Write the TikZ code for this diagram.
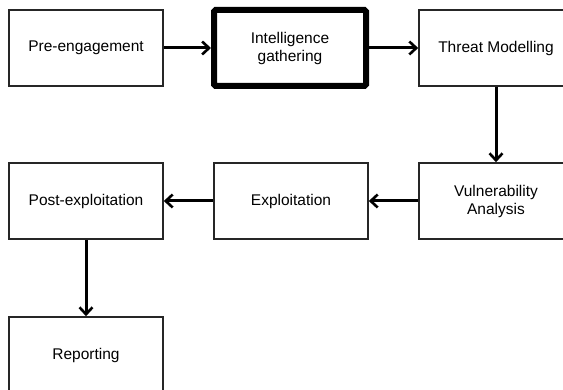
\documentclass[tikz,border=0pt]{standalone}
\usepackage{fontspec}
\setmainfont{Liberation Sans}
\usetikzlibrary{arrows.meta}
\begin{document}
\begin{tikzpicture}[x=1pt,y=-1pt,
  box/.style={draw=black!85, line width=1.6pt, minimum width=154pt, minimum height=76pt, align=center, font=\fontsize{15.5}{18}\selectfont, inner sep=0pt},
  thickbox/.style={box, draw=black, line width=6pt, rounded corners=1.5pt, minimum width=152pt, minimum height=76pt},
  conn/.style={line width=3pt, -{Straight Barb[length=7pt,width=13pt,line width=2.6pt]}}]
\useasboundingbox (0,0) rectangle (563,390);
\clip (0,0) rectangle (563,390);
\fill[white] (0,0) rectangle (563,390);
\node[box] (pre) at (86,48) {Pre-engagement};
\node[thickbox] (intel) at (290,48) {Intelligence\\gathering};
\node[box] (threat) at (496,48) {Threat Modelling};
\node[box] (vuln) at (496,201) {Vulnerability\\Analysis};
\node[box] (expl) at (291,201) {Exploitation};
\node[box] (post) at (86,201) {Post-exploitation};
\node[box] (rep) at (86,355) {Reporting};
\draw[conn] (pre) -- (intel);
\draw[conn] (intel) -- (threat);
\draw[conn] (threat) -- (vuln);
\draw[conn] (vuln) -- (expl);
\draw[conn] (expl) -- (post);
\draw[conn] (post) -- (rep);
\end{tikzpicture}
\end{document}
